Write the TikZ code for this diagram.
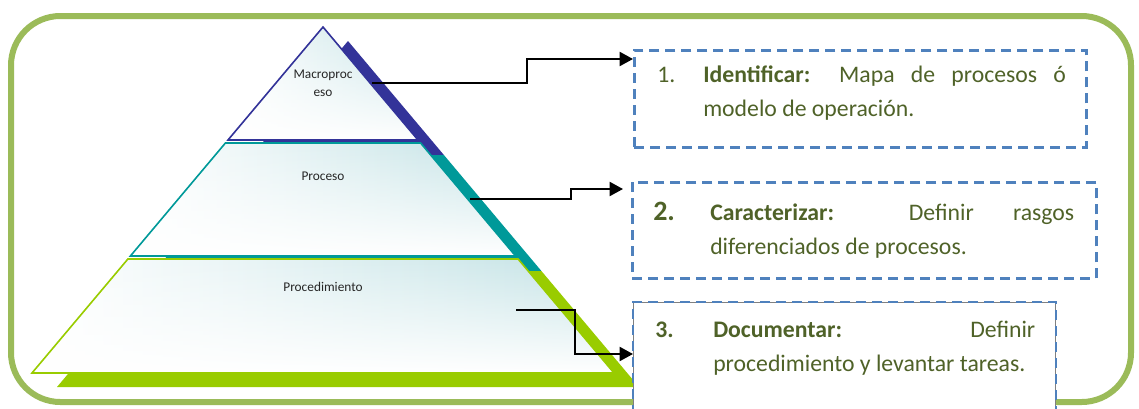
\documentclass[tikz,border=0pt]{standalone}
\usepackage{fontspec}
\setmainfont{Carlito}
\usetikzlibrary{arrows.meta,fadings}
\definecolor{frame}{HTML}{9BBB59}
\definecolor{boxblue}{HTML}{4F81BD}
\definecolor{olivetext}{HTML}{4F6228}
\definecolor{darkblue}{HTML}{333399}
\definecolor{tealband}{HTML}{009999}
\definecolor{limeband}{HTML}{99CC00}
\definecolor{layertint}{HTML}{C2E2E5}

\begin{document}
\begin{tikzpicture}[x=0.75pt,y=-0.75pt,
    dashbox/.style={draw=boxblue, line width=1.9pt, dash pattern=on 7.5pt off 4.5pt},
    link/.style={line width=1.5pt, -{Triangle[length=10pt,width=10.5pt]}},
    layer/.style={left color=white, right color=layertint,
        postaction={fill=white, path fading=north},
        postaction={draw, line width=1.2pt}},
    boxtext/.style={anchor=base west, inner sep=0pt, text=olivetext, font=\fontsize{17.8pt}{26pt}\selectfont},
    boxnum/.style={boxtext, font=\bfseries\fontsize{17.8pt}{26pt}\selectfont},
    levellabel/.style={text=black!85, font=\fontsize{10pt}{13.5pt}\selectfont, align=center}]
    \useasboundingbox (0,0) rectangle (1139,408);
    \clip (0,0) rectangle (1139,408);
    \draw[frame, line width=4.5pt, rounded corners=37pt] (11,16) rectangle (1131,402);
    % shadow of the pyramid
    \begin{scope}[shift={(25,14)}]
        \fill[darkblue] (323,27) -- (418.9,141) -- (227.1,141) -- cycle;
        \fill[tealband] (227.1,141) -- (418.9,141) -- (516.4,257) -- (129.6,257) -- cycle;
        \fill[limeband] (129.6,257) -- (516.4,257) -- (614,373) -- (32,373) -- cycle;
    \end{scope}
    % front layers
    \path[layer, draw=darkblue] (323,27) -- (418,140) -- (228,140) -- cycle;
    \path[layer, draw=tealband] (225.4,143) -- (420.6,143) -- (515.6,256) -- (130.4,256) -- cycle;
    \path[layer, draw=limeband] (127.9,259) -- (518.1,259) -- (614,373) -- (32,373) -- cycle;
    \node[levellabel] (macro) at (323,83) {Macroproc\\eso};
    \node[levellabel] (proceso) at (323,176) {Proceso};
    \node[levellabel] (proced) at (323,287) {Procedimiento};
    % boxes
    \node[dashbox, anchor=north west, minimum width=339pt, minimum height=72.75pt] (box1) at (633,49) {};
    \node[dashbox, anchor=north west, minimum width=348pt, minimum height=72pt] (box2) at (631,181) {};
    \node[draw=gray, line width=0.6pt, fill=white, anchor=north west, minimum width=316.5pt, minimum height=96pt] (box3) at (633,302) {};
    \draw[dashbox] (box3.south west) rectangle (box3.north east);
    \node[boxtext] (num1) at (657,82) {1.};
    \node[boxtext] (txt1) at (703,82) {\parbox[t]{272pt}{\makebox[\linewidth][s]{\textbf{Identificar:} Mapa de procesos ó}\\modelo de operación.}};
    \node[boxnum, font=\bfseries\fontsize{21pt}{26pt}\selectfont] (num2) at (653,220) {2.};
    \node[boxtext] (txt2) at (710,220) {\parbox[t]{273pt}{\makebox[\linewidth][s]{\textbf{Caracterizar:} Definir rasgos}\\diferenciados de procesos.}};
    \node[boxnum] (num3) at (655,337) {3.};
    \node[boxtext] (txt3) at (713,337) {\parbox[t]{241.5pt}{\makebox[\linewidth][s]{\textbf{Documentar:} Definir}\\procedimiento y levantar tareas.}};
    % connectors
    \coordinate (s1) at (372,83);
    \coordinate (s2) at (470,199);
    \coordinate (s3) at (516,310);
    \draw[link] (s1) -- ++(155,0) |- (box1.west |- 0,59);
    \draw[link, shorten >=6pt] (s2) -- ++(101,0) |- (box2.west |- 0,189);
    \draw[link] (s3) -- ++(59,0) |- (box3.west |- 0,354);
\end{tikzpicture}
\end{document}
